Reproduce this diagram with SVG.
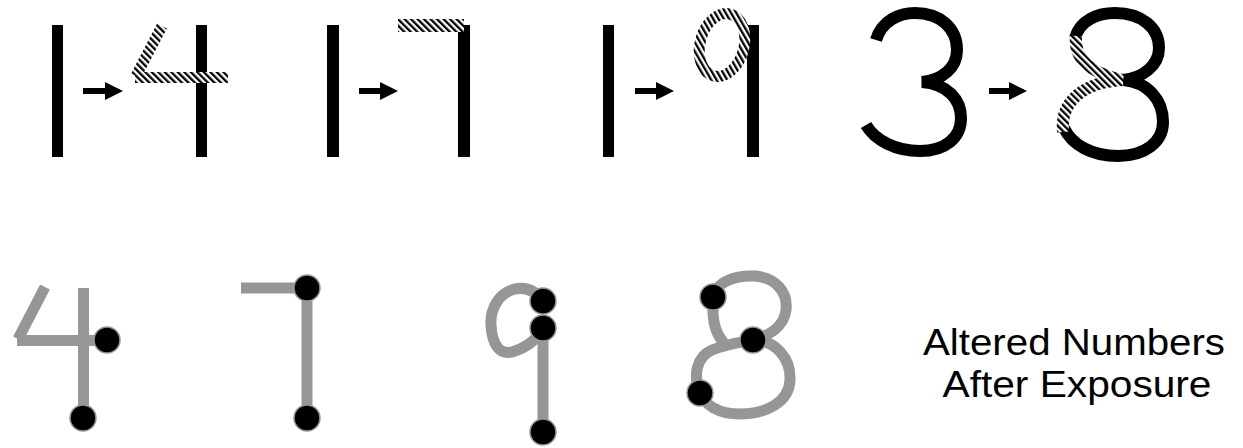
<svg xmlns="http://www.w3.org/2000/svg" width="1243" height="448" viewBox="0 0 1243 448">
<style>
.bar{fill:#000}
.blk{fill:none;stroke:#000;stroke-width:12;stroke-linecap:butt}
.hat{fill:none;stroke:url(#hatch);stroke-width:11;stroke-linecap:butt}
.gry{fill:none;stroke:#969696;stroke-width:11;stroke-linecap:butt}
.dot{fill:#000;stroke:#969696;stroke-width:1.5}
.arr{stroke:#000;stroke-width:6;fill:none;marker-end:url(#ah)}
.lbl{font-family:"Liberation Sans",Arial,sans-serif;font-size:37px;fill:#000;text-anchor:middle}
</style>
<defs>
<pattern id="hatch" patternUnits="userSpaceOnUse" width="4.6" height="4.6" patternTransform="rotate(-45)">
<rect width="4.6" height="4.6" fill="#fff"/>
<rect width="2.3" height="4.6" fill="#000"/>
</pattern>
<marker id="ah" markerUnits="userSpaceOnUse" markerWidth="18" markerHeight="18" refX="0" refY="9" orient="auto">
<path d="M0,0 L18,9 L0,18 Z" fill="#000"/>
</marker>
</defs>
<rect width="1243" height="448" fill="#fff"/>

<g id="top-1to4">
<rect class="bar" x="52" y="25" width="11" height="132"/>
<rect class="bar" x="196" y="25" width="11" height="132"/>
<line class="hat" x1="135" y1="77.5" x2="228" y2="77.5"/>
<line class="hat" x1="162" y1="26" x2="136" y2="76"/>
</g>

<g id="top-1to7">
<rect class="bar" x="327" y="25" width="12" height="132"/>
<rect class="bar" x="458" y="25" width="12" height="132"/>
<rect x="398" y="19" width="66" height="13" fill="url(#hatch)"/>
</g>

<g id="top-1to9">
<rect class="bar" x="603" y="25" width="11" height="132"/>
<rect class="bar" x="747" y="25" width="12" height="132"/>
<ellipse class="hat" cx="722" cy="45" rx="22" ry="32" transform="rotate(15 722 45)"/>
</g>

<g id="top-3to8">
<path class="blk" d="M876,40 C882,20 900,13 915,13 C940,13 957,28 957,50 C957,68 942,80 922,82 C948,84 961,100 961,118 C961,138 945,151 920,151 C895,151 875,140 866,125"/>
<path class="blk" d="M1075,38 C1080,20 1098,13 1115,13 C1142,13 1159,28 1159,48 C1159,66 1142,78 1123,80 C1148,82 1163,100 1163,122 C1163,142 1145,156 1118,156 C1092,156 1072,145 1064,128"/>
<path class="hat" d="M1076,36 C1074,55 1085,72 1123,80" style="stroke-width:12"/>
<path class="hat" d="M1123,80 C1085,82 1060,100 1063,132" style="stroke-width:12"/>
</g>

<g id="connectors">
<line class="arr" x1="83" y1="91" x2="105" y2="91"/>
<line class="arr" x1="359" y1="91" x2="380" y2="91"/>
<line class="arr" x1="635" y1="91" x2="656" y2="91"/>
<line class="arr" x1="989" y1="91" x2="1009" y2="91"/>
</g>

<g id="bottom-4">
<line class="gry" x1="83.5" y1="288" x2="83.5" y2="418"/>
<line class="gry" x1="17" y1="340.5" x2="107" y2="340.5"/>
<line class="gry" x1="45" y1="287" x2="18" y2="339"/>
<circle class="dot" cx="107" cy="340" r="13"/>
<circle class="dot" cx="83" cy="418" r="13"/>
</g>

<g id="bottom-7">
<line class="gry" x1="241" y1="288" x2="307" y2="288"/>
<line class="gry" x1="307" y1="288" x2="307" y2="418"/>
<circle class="dot" cx="307" cy="288" r="13"/>
<circle class="dot" cx="307" cy="418" r="13"/>
</g>

<g id="bottom-9">
<line class="gry" x1="543" y1="328" x2="543" y2="432"/>
<path class="gry" d="M543,301 C535,290 525,287 515,289 C498,293 490,310 491,325 C492,345 500,355 512,352 C528,347 538,338 543,328"/>
<circle class="dot" cx="543" cy="301" r="13"/>
<circle class="dot" cx="543" cy="328" r="13"/>
<circle class="dot" cx="543" cy="432" r="13"/>
</g>

<g id="bottom-8">
<path class="gry" d="M713,297 C716,282 735,275 755,276 C776,278 788,292 786,310 C784,327 768,336 753,340"/>
<path class="gry" d="M713,297 C712,318 714,332 724,343"/>
<path class="gry" d="M753,340 C775,340 791,358 790,380 C789,403 765,414 740,414 C718,414 705,405 700,393 C693,376 696,357 712,350 C727,344 742,342 753,340"/>
<circle class="dot" cx="713" cy="297" r="13"/>
<circle class="dot" cx="753" cy="340" r="13"/>
<circle class="dot" cx="700" cy="393" r="13"/>
</g>

<g id="label">
<text class="lbl" x="1074" y="355" textLength="302" lengthAdjust="spacingAndGlyphs">Altered Numbers</text>
<text class="lbl" x="1077" y="397" textLength="269" lengthAdjust="spacingAndGlyphs">After Exposure</text>
</g>
</svg>
